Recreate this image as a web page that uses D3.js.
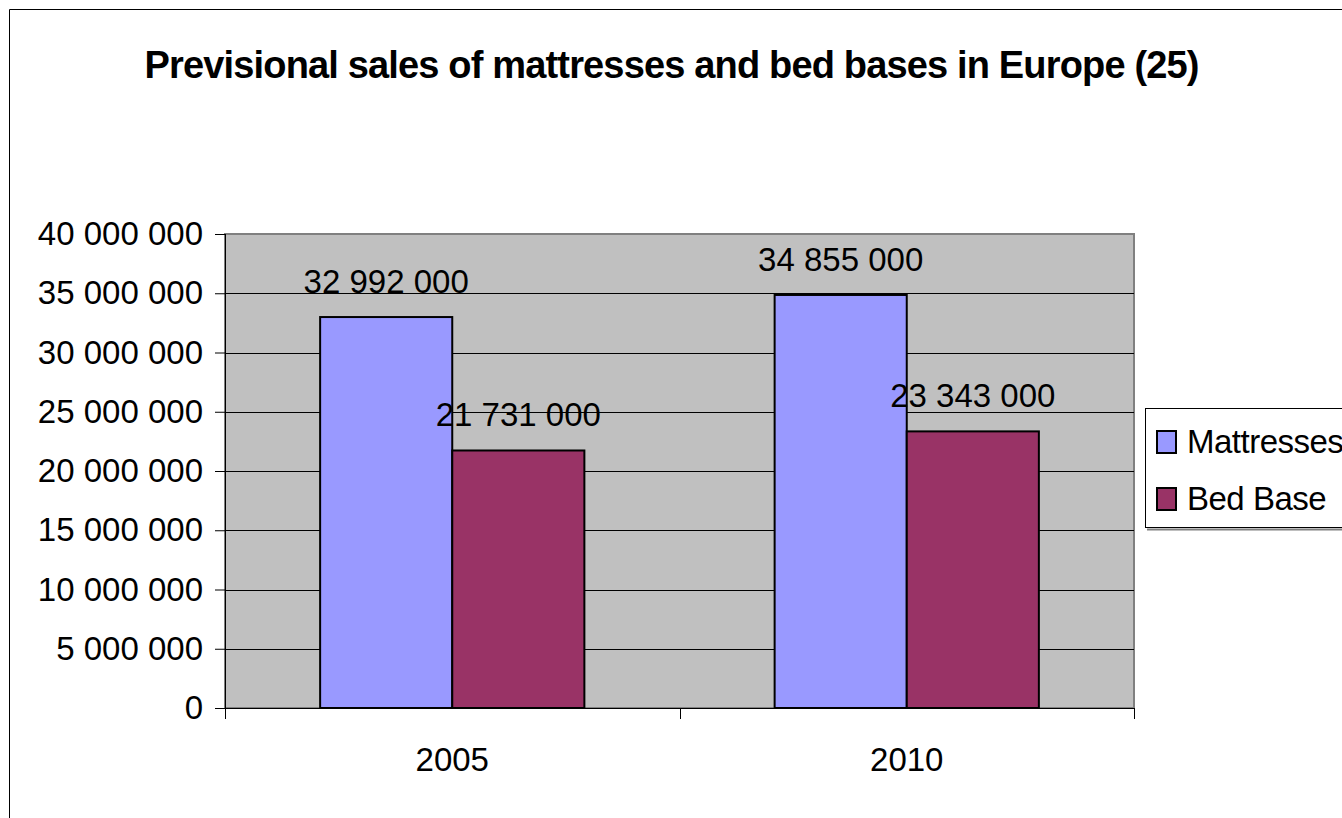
<!DOCTYPE html>
<html>
<head>
<meta charset="utf-8">
<script src="https://cdn.jsdelivr.net/npm/d3@7"></script>
<style>
  body { margin: 0; background: #fff; }
  svg { display: block; font-family: "Liberation Sans", Arial, sans-serif; }
</style>
</head>
<body>
<svg width="1342" height="818"></svg>
<script>
// chart values
var categories = ['2005', '2010'];
var seriesNames = ['Mattresses', 'Bed Base'];
var mattresses = [32992000, 34855000];
var bedBase = [21731000, 23343000];
var yTickValues = [0, 5000000, 10000000, 15000000, 20000000, 25000000, 30000000, 35000000, 40000000];
var colors = ['#9999FF', '#993366'];

var margin = { top: 234, left: 225, right: 208, bottom: 110 };
var width = 1342 - margin.left - margin.right;   // 909
var height = 818 - margin.top - margin.bottom;   // 474

var svg = d3.select('svg');

// outer chart border (runs off the page right and bottom)
svg.append('path')
  .attr('d', 'M9.5,830 V9.5 H1360')
  .attr('fill', 'none')
  .attr('stroke', '#000')
  .attr('stroke-width', 1);

// title
svg.append('text')
  .attr('x', 672)
  .attr('y', 78)
  .attr('text-anchor', 'middle')
  .attr('font-weight', 'bold')
  .attr('font-size', 38)
  .attr('textLength', 1055)
  .attr('lengthAdjust', 'spacing')
  .text('Previsional sales of mattresses and bed bases in Europe (25)');

var g = svg.append('g')
  .attr('transform', 'translate(' + margin.left + ',' + margin.top + ')');

var fmt = function(v) { return d3.format(',')(v).replace(/,/g, ' '); };

var y = d3.scaleLinear()
  .domain([0, 40000000])
  .range([height, 0]);

var x0 = d3.scaleBand()
  .domain(categories)
  .range([0, width])
  .paddingInner(0)
  .paddingOuter(0);

var x1 = d3.scaleBand()
  .domain(seriesNames)
  .range([0, x0.bandwidth()])
  .paddingInner(0)
  .paddingOuter(0.72);

// plot area
g.append('rect')
  .attr('x', 0)
  .attr('y', 0)
  .attr('width', width)
  .attr('height', height)
  .attr('fill', '#C0C0C0')
  .attr('stroke', '#808080')
  .attr('stroke-width', 2);

// gridlines
g.append('g')
  .selectAll('line')
  .data(yTickValues.slice(1, -1))
  .enter()
  .append('line')
    .attr('x1', 0)
    .attr('x2', width)
    .attr('y1', d => Math.round(y(d)) + 0.5)
    .attr('y2', d => Math.round(y(d)) + 0.5)
    .attr('stroke', '#000')
    .attr('stroke-width', 1);

var rows = categories.map((c, i) => ({ cat: c, values: [mattresses[i], bedBase[i]] }));

var groups = g.selectAll('.grp')
  .data(rows)
  .enter()
  .append('g')
    .attr('transform', d => 'translate(' + x0(d.cat) + ',0)');

groups.selectAll('rect')
  .data(d => d.values.map((v, j) => ({ name: seriesNames[j], value: v, idx: j })))
  .enter()
  .append('rect')
    .attr('x', d => x1(d.name))
    .attr('y', d => y(d.value))
    .attr('width', x1.bandwidth())
    .attr('height', d => height - y(d.value))
    .attr('fill', d => colors[d.idx])
    .attr('stroke', '#000')
    .attr('stroke-width', 2);

// value labels
groups.selectAll('.lbl')
  .data(d => d.values.map((v, j) => ({ name: seriesNames[j], value: v })))
  .enter()
  .append('text')
    .attr('x', d => x1(d.name) + x1.bandwidth() / 2)
    .attr('y', d => y(d.value) - 24)
    .attr('text-anchor', 'middle')
    .attr('font-size', 33)
    .text(d => fmt(d.value));

// y axis
var yAxis = d3.axisLeft(y)
  .tickValues(yTickValues)
  .tickFormat(fmt)
  .tickSizeInner(10)
  .tickSizeOuter(0)
  .tickPadding(12);

var ya = g.append('g').call(yAxis);
ya.select('.domain').remove();
ya.selectAll('line').attr('stroke', '#000');
ya.selectAll('text')
  .attr('font-size', 33)
  .attr('fill', '#000')
  .attr('font-family', '"Liberation Sans", Arial, sans-serif');
g.append('line')
  .attr('x1', 0.5).attr('x2', 0.5)
  .attr('y1', 0).attr('y2', height + 11)
  .attr('stroke', '#000');

// x axis
var xAxis = d3.axisBottom(x0).tickSize(0).tickPadding(40);
var xa = g.append('g')
  .attr('transform', 'translate(0,' + height + ')')
  .call(xAxis);
xa.select('.domain').remove();
xa.selectAll('text')
  .attr('font-size', 33)
  .attr('fill', '#000')
  .attr('font-family', '"Liberation Sans", Arial, sans-serif');
g.append('line')
  .attr('x1', 0).attr('x2', width)
  .attr('y1', height + 0.5).attr('y2', height + 0.5)
  .attr('stroke', '#000');
var edges = categories.map(c => x0(c)).concat([width]);
g.append('g')
  .selectAll('line')
  .data(edges)
  .enter()
  .append('line')
    .attr('x1', d => Math.round(d) + 0.5)
    .attr('x2', d => Math.round(d) + 0.5)
    .attr('y1', height)
    .attr('y2', height + 11)
    .attr('stroke', '#000');

// legend
var lg = svg.append('g').attr('transform', 'translate(1145,408)');
lg.append('line')
  .attr('x1', 2).attr('x2', 260)
  .attr('y1', 121.5).attr('y2', 121.5)
  .attr('stroke', '#808080')
  .attr('stroke-width', 2);
lg.append('rect')
  .attr('x', 0.5).attr('y', 0.5)
  .attr('width', 260).attr('height', 119)
  .attr('fill', '#fff')
  .attr('stroke', '#000');
var items = lg.selectAll('.item')
  .data(seriesNames)
  .enter()
  .append('g')
    .attr('transform', (d, i) => 'translate(0,' + (i * 57) + ')');
items.append('rect')
  .attr('x', 12).attr('y', 23)
  .attr('width', 19).attr('height', 22)
  .attr('fill', (d, i) => colors[i])
  .attr('stroke', '#000')
  .attr('stroke-width', 2);
items.append('text')
  .attr('x', 42)
  .attr('y', 45)
  .attr('font-size', 33)
  .attr('letter-spacing', -0.5)
  .text(d => d);
</script>
</body>
</html>
